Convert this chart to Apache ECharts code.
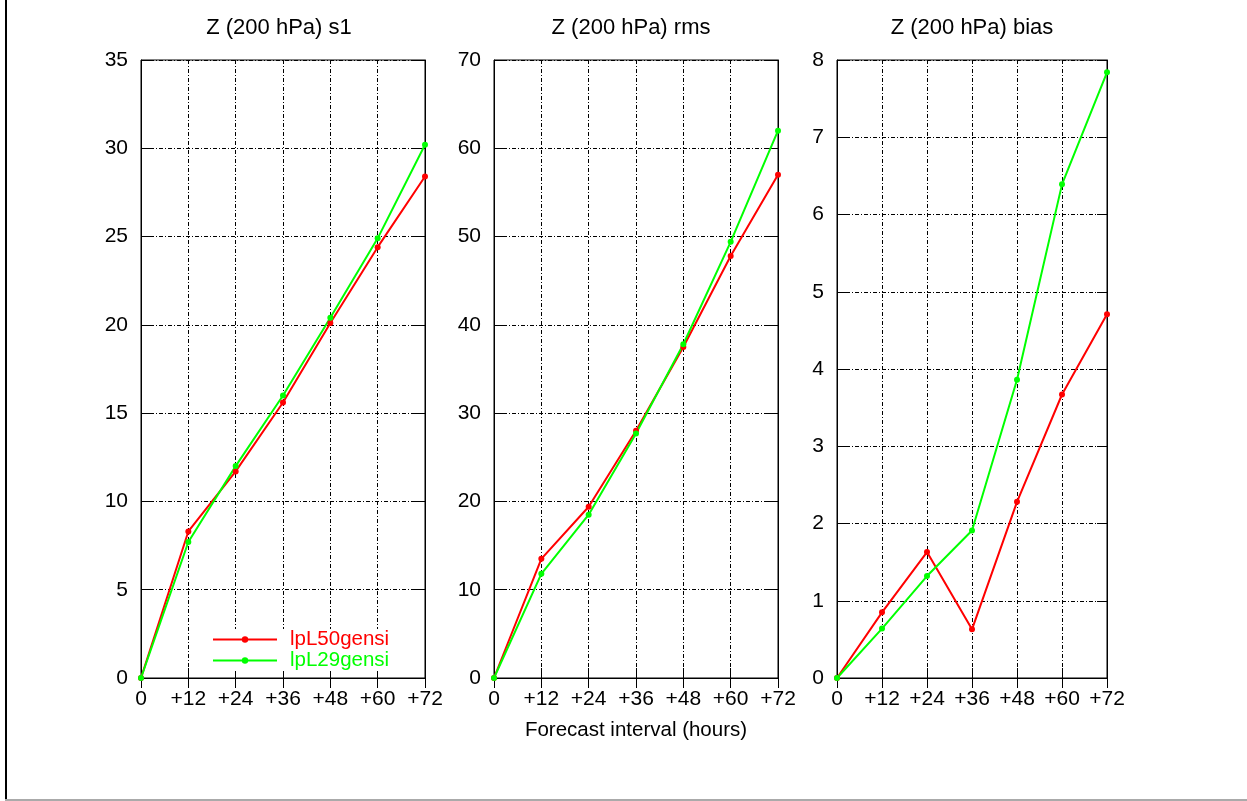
<!DOCTYPE html>
<html>
<head>
<meta charset="utf-8">
<script src="https://cdn.jsdelivr.net/npm/echarts@6/dist/echarts.min.js"></script>
<style>
  html, body { margin: 0; padding: 0; background: #fff; }
  #main { width: 1247px; height: 801px; }
</style>
</head>
<body>
<div id="main"></div>
<script>
// 预报时效 (x 轴刻度)
var hours = ['0', '+12', '+24', '+36', '+48', '+60', '+72'];

// 三个子图的标题
var titles = ['Z (200 hPa) s1', 'Z (200 hPa) rms', 'Z (200 hPa) bias'];

// 两个试验的名字
var nameA = 'lpL50gensi';
var nameB = 'lpL29gensi';

// s1
var s1A = [0, 8.3, 11.7, 15.6, 20.1, 24.4, 28.4];
var s1B = [0, 7.7, 12.0, 16.0, 20.4, 24.9, 30.2];
// rms
var rmsA = [0, 13.5, 19.4, 28.0, 37.5, 47.8, 57.0];
var rmsB = [0, 11.8, 18.5, 27.7, 37.8, 49.4, 62.0];
// bias
var biasA = [0, 0.85, 1.63, 0.63, 2.28, 3.67, 4.71];
var biasB = [0, 0.64, 1.32, 1.91, 3.86, 6.39, 7.84];

// y 轴范围
var yMax = [35, 70, 8];
var yStep = [5, 10, 1];

var font = '"Liberation Sans", Arial, Helvetica, sans-serif';
var red = '#ff0000';
var green = '#00ff00';

// 每个子图的位置
var panels = [
  { left: 141, width: 284, mid: 279 },
  { left: 494, width: 284, mid: 631 },
  { left: 837, width: 270, mid: 972 }
];
var top0 = 60, h0 = 618;

var chart = echarts.init(document.getElementById('main'));

var gridLine = {
  show: true,
  lineStyle: { color: '#000', width: 1, type: [4, 2, 1, 2] }
};

var grids = [], xAxes = [], yAxes = [], titleList = [], series = [];
var dataA = [s1A, rmsA, biasA];
var dataB = [s1B, rmsB, biasB];

panels.forEach(function (p, i) {
  grids.push({
    left: p.left, top: top0, width: p.width, height: h0,
    show: true, borderColor: '#000', borderWidth: 1, backgroundColor: 'transparent'
  });

  titleList.push({
    text: titles[i],
    left: p.mid, top: 17, textAlign: 'center', padding: 0,
    textStyle: { fontSize: 22, fontWeight: 'normal', color: '#000', fontFamily: font }
  });

  // 下方 x 轴
  xAxes.push({
    gridIndex: i, type: 'category', boundaryGap: false, data: hours,
    position: 'bottom',
    axisLine: { lineStyle: { color: '#000', width: 1 } },
    axisTick: { inside: true, length: 10, lineStyle: { color: '#000' } },
    axisLabel: { color: '#000', fontSize: 21, fontFamily: font, margin: 11, interval: 0 },
    splitLine: gridLine,
    name: i === 1 ? 'Forecast interval (hours)' : '',
    nameLocation: 'middle', nameGap: 42,
    nameTextStyle: { color: '#000', fontSize: 20.5, fontFamily: font }
  });
  // 上方镜像刻度
  xAxes.push({
    gridIndex: i, type: 'category', boundaryGap: false, data: hours,
    position: 'top',
    axisLine: { lineStyle: { color: '#000', width: 1 } },
    axisTick: { inside: true, length: 10, lineStyle: { color: '#000' } },
    axisLabel: { show: false },
    splitLine: { show: false }
  });

  // 左侧 y 轴
  yAxes.push({
    gridIndex: i, type: 'value', min: 0, max: yMax[i], interval: yStep[i],
    position: 'left',
    axisLine: { show: true, lineStyle: { color: '#000', width: 1 } },
    axisTick: { show: true, inside: true, length: 10, lineStyle: { color: '#000' } },
    axisLabel: { color: '#000', fontSize: 21, fontFamily: font, margin: 13 },
    splitLine: gridLine
  });
  // 右侧镜像刻度
  yAxes.push({
    gridIndex: i, type: 'value', min: 0, max: yMax[i], interval: yStep[i],
    position: 'right',
    axisLine: { show: true, lineStyle: { color: '#000', width: 1 } },
    axisTick: { show: true, inside: true, length: 10, lineStyle: { color: '#000' } },
    axisLabel: { show: false },
    splitLine: { show: false }
  });

  series.push({
    name: nameA, type: 'line', xAxisIndex: i * 2, yAxisIndex: i * 2,
    data: dataA[i], symbol: 'circle', symbolSize: 6, showSymbol: true,
    itemStyle: { color: red }, lineStyle: { color: red, width: 2 },
    animation: false
  });
  series.push({
    name: nameB, type: 'line', xAxisIndex: i * 2, yAxisIndex: i * 2,
    data: dataB[i], symbol: 'circle', symbolSize: 6, showSymbol: true,
    itemStyle: { color: green }, lineStyle: { color: green, width: 2 },
    animation: false
  });
});

var option = {
  backgroundColor: '#fff',
  animation: false,
  title: titleList,
  legend: {
    data: [
      { name: nameA, textStyle: { color: red } },
      { name: nameB, textStyle: { color: green } }
    ],
    orient: 'vertical', left: 205, top: 629,
    padding: [0, 28, 0, 7], itemGap: 0,
    itemWidth: 64, itemHeight: 8,
    backgroundColor: '#fff',
    textStyle: { fontSize: 20.5, lineHeight: 20, fontFamily: font, padding: [0, 0, 0, 8] }
  },
  grid: grids,
  xAxis: xAxes,
  yAxis: yAxes,
  series: series,
  // 外框线
  graphic: [
    { type: 'rect', shape: { x: 5, y: 0, width: 2, height: 801 }, style: { fill: '#000' } },
    { type: 'rect', shape: { x: 5, y: 799, width: 1242, height: 2 }, style: { fill: '#aaaaaa' } }
  ]
};

chart.setOption(option);
</script>
</body>
</html>
